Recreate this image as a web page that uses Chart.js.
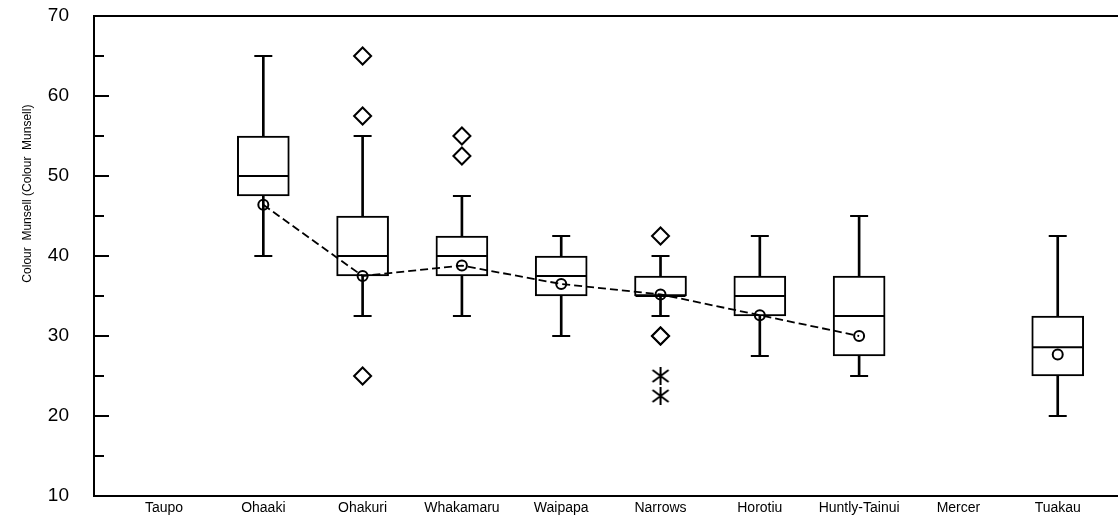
<!DOCTYPE html>
<html>
<head>
<meta charset="utf-8">
<title>Colour Munsell</title>
<script src="https://cdn.jsdelivr.net/npm/chart.js@4.4.1/dist/chart.umd.min.js"></script>
<style>
    body { margin: 0; background: #fff; }
    #wrap { position: relative; width: 1118px; height: 519px; }
</style>
</head>
<body>
<div id="wrap"><canvas id="boxChart"></canvas></div>
<script>
// sites along the river, left to right
const categories = ['Taupo', 'Ohaaki', 'Ohakuri', 'Whakamaru', 'Waipapa', 'Narrows', 'Horotiu', 'Huntly-Tainui', 'Mercer', 'Tuakau'];

// box plot summary per site (null = no samples)
const whiskerLow  = [null, 40,   32.5, 32.5, 30,   32.5, 27.5, 25,   null, 20];
const q1          = [null, 47.5, 37.5, 37.5, 35,   35,   32.5, 27.5, null, 25];
const medians     = [null, 50,   40,   40,   37.5, 35,   35,   32.5, null, 28.6];
const q3          = [null, 55,   45,   42.5, 40,   37.5, 37.5, 37.5, null, 32.5];
const whiskerHigh = [null, 65,   55,   47.5, 42.5, 40,   42.5, 45,   null, 42.5];
const means       = [null, 46.4, 37.5, 38.8, 36.5, 35.2, 32.6, 30,   null, 27.7];

// outliers (diamonds) and far outliers (asterisks)
const outliers    = [[], [], [65, 57.5, 25], [55, 52.5], [], [42.5, 30, 30], [], [], [], []];
const farOutliers = [[], [], [], [], [], [25, 22.5], [], [], [], []];

// y axis
const yLabelTicks = [10, 20, 30, 40, 50, 60, 70];
const yMajorMarks = [20, 30, 40, 50, 60];
const yMinorMarks = [15, 25, 35, 45, 55, 65];

const yTitle = 'Colour  Munsell (Colour  Munsell)';
const fonte = "'Liberation Sans', Arial, sans-serif";

let meuGrafico = null;

document.addEventListener('DOMContentLoaded', () => {
    renderizarBoxplot();
});

function pontos(valores) {
    const out = [];
    valores.forEach((v, i) => { if (v !== null) out.push({ x: i, y: v }); });
    return out;
}

function faixas(a, b) {
    const out = [];
    a.forEach((v, i) => { if (v !== null) out.push({ x: i, y: [v, b[i]] }); });
    return out;
}

function listaPontos(listas) {
    const out = [];
    listas.forEach((l, i) => l.forEach(v => out.push({ x: i, y: v })));
    return out;
}

// asterisk glyph for far outliers
function asterisco() {
    const c = document.createElement('canvas');
    c.width = 20; c.height = 20;
    const g = c.getContext('2d');
    g.strokeStyle = '#000';
    g.lineWidth = 2;
    g.beginPath();
    g.moveTo(10, 1); g.lineTo(10, 19);
    g.moveTo(2, 4); g.lineTo(18, 16);
    g.moveTo(2, 16); g.lineTo(18, 4);
    g.stroke();
    return c;
}

// inner tick marks on the y axis + rotated axis title
const eixoPlugin = {
    id: 'eixoPlugin',
    afterDraw(chart) {
        const { ctx, chartArea, scales } = chart;
        const y = scales.y;
        ctx.save();
        ctx.strokeStyle = '#000';
        ctx.lineWidth = 2;
        ctx.beginPath();
        yMajorMarks.forEach(v => {
            const p = Math.round(y.getPixelForValue(v));
            ctx.moveTo(chartArea.left, p); ctx.lineTo(chartArea.left + 15, p);
        });
        yMinorMarks.forEach(v => {
            const p = Math.round(y.getPixelForValue(v));
            ctx.moveTo(chartArea.left, p); ctx.lineTo(chartArea.left + 10, p);
        });
        ctx.stroke();

        ctx.translate(28, chartArea.top + (chartArea.bottom - chartArea.top) * 0.37);
        ctx.rotate(-Math.PI / 2);
        ctx.fillStyle = '#000';
        ctx.font = '12px ' + fonte;
        ctx.textAlign = 'center';
        ctx.textBaseline = 'middle';
        ctx.fillText(yTitle, 0, 0);
        ctx.restore();
    }
};

function renderizarBoxplot() {
    const ctx = document.getElementById('boxChart').getContext('2d');
    if (meuGrafico) {
        meuGrafico.destroy();
    }

    const xMin = -0.705, xMax = 9.607;

    meuGrafico = new Chart(ctx, {
        type: 'bar',
        data: {
            datasets: [
                {
                    // whisker stems
                    type: 'bar',
                    data: faixas(whiskerLow, whiskerHigh),
                    backgroundColor: '#000',
                    borderWidth: 0,
                    barThickness: 2,
                    grouped: false,
                    order: 5
                },
                {
                    // boxes q1..q3
                    type: 'bar',
                    data: faixas(q1, q3),
                    backgroundColor: '#fff',
                    borderColor: '#000',
                    borderWidth: 2,
                    borderSkipped: false,
                    barThickness: 52,
                    grouped: false,
                    order: 4
                },
                {
                    // caps
                    type: 'line',
                    data: pontos(whiskerLow).concat(pontos(whiskerHigh)),
                    showLine: false,
                    pointStyle: 'line',
                    pointRadius: 9,
                    pointBorderWidth: 2,
                    pointBorderColor: '#000',
                    order: 3
                },
                {
                    // medians
                    type: 'line',
                    data: pontos(medians),
                    showLine: false,
                    pointStyle: 'line',
                    pointRadius: 25,
                    pointBorderWidth: 2,
                    pointBorderColor: '#000',
                    order: 2
                },
                {
                    // means joined by dashed line
                    type: 'line',
                    data: means.map((v, i) => ({ x: i, y: v })),
                    spanGaps: false,
                    borderColor: '#000',
                    borderWidth: 1.8,
                    borderDash: [8, 4],
                    tension: 0,
                    pointStyle: 'circle',
                    pointRadius: 5,
                    pointBorderWidth: 2,
                    pointBorderColor: '#000',
                    pointBackgroundColor: 'rgba(255,255,255,0)',
                    order: 1
                },
                {
                    type: 'line',
                    data: listaPontos(outliers),
                    showLine: false,
                    pointStyle: 'rectRot',
                    pointRadius: 8.5,
                    pointBorderWidth: 2,
                    pointBorderColor: '#000',
                    pointBackgroundColor: '#fff',
                    order: 1
                },
                {
                    type: 'line',
                    data: listaPontos(farOutliers),
                    showLine: false,
                    pointStyle: asterisco(),
                    order: 1
                }
            ]
        },
        options: {
            responsive: true,
            maintainAspectRatio: false,
            animation: false,
            events: [],
            layout: { padding: 0, autoPadding: false },
            plugins: {
                legend: { display: false },
                tooltip: { enabled: false }
            },
            scales: {
                x: {
                    type: 'linear',
                    position: 'bottom',
                    min: xMin,
                    max: xMax,
                    offset: false,
                    grid: { display: false, drawTicks: false },
                    border: { color: '#000', width: 2 },
                    afterBuildTicks: s => { s.ticks = categories.map((c, i) => ({ value: i })); },
                    afterFit: s => { s.height = 23; s.paddingLeft = 0; s.paddingRight = 0; },
                    ticks: {
                        autoSkip: false,
                        maxRotation: 0,
                        padding: 4,
                        color: '#000',
                        font: { family: fonte, size: 14 },
                        callback: v => categories[v]
                    }
                },
                x2: {
                    type: 'linear',
                    position: 'top',
                    display: true,
                    min: xMin,
                    max: xMax,
                    grid: { display: false, drawTicks: false },
                    ticks: { display: false },
                    border: { color: '#000', width: 2 },
                    afterFit: s => { s.height = 16; s.paddingLeft = 0; s.paddingRight = 0; }
                },
                y: {
                    min: 10,
                    max: 70,
                    grid: { display: false, drawTicks: false },
                    border: { color: '#000', width: 2 },
                    afterBuildTicks: s => { s.ticks = yLabelTicks.map(v => ({ value: v })); },
                    afterFit: s => { s.width = 94; s.paddingTop = 0; s.paddingBottom = 0; },
                    ticks: {
                        padding: 25,
                        color: '#000',
                        font: { family: fonte, size: 19 }
                    }
                }
            }
        },
        plugins: [eixoPlugin]
    });
}
</script>
</body>
</html>
